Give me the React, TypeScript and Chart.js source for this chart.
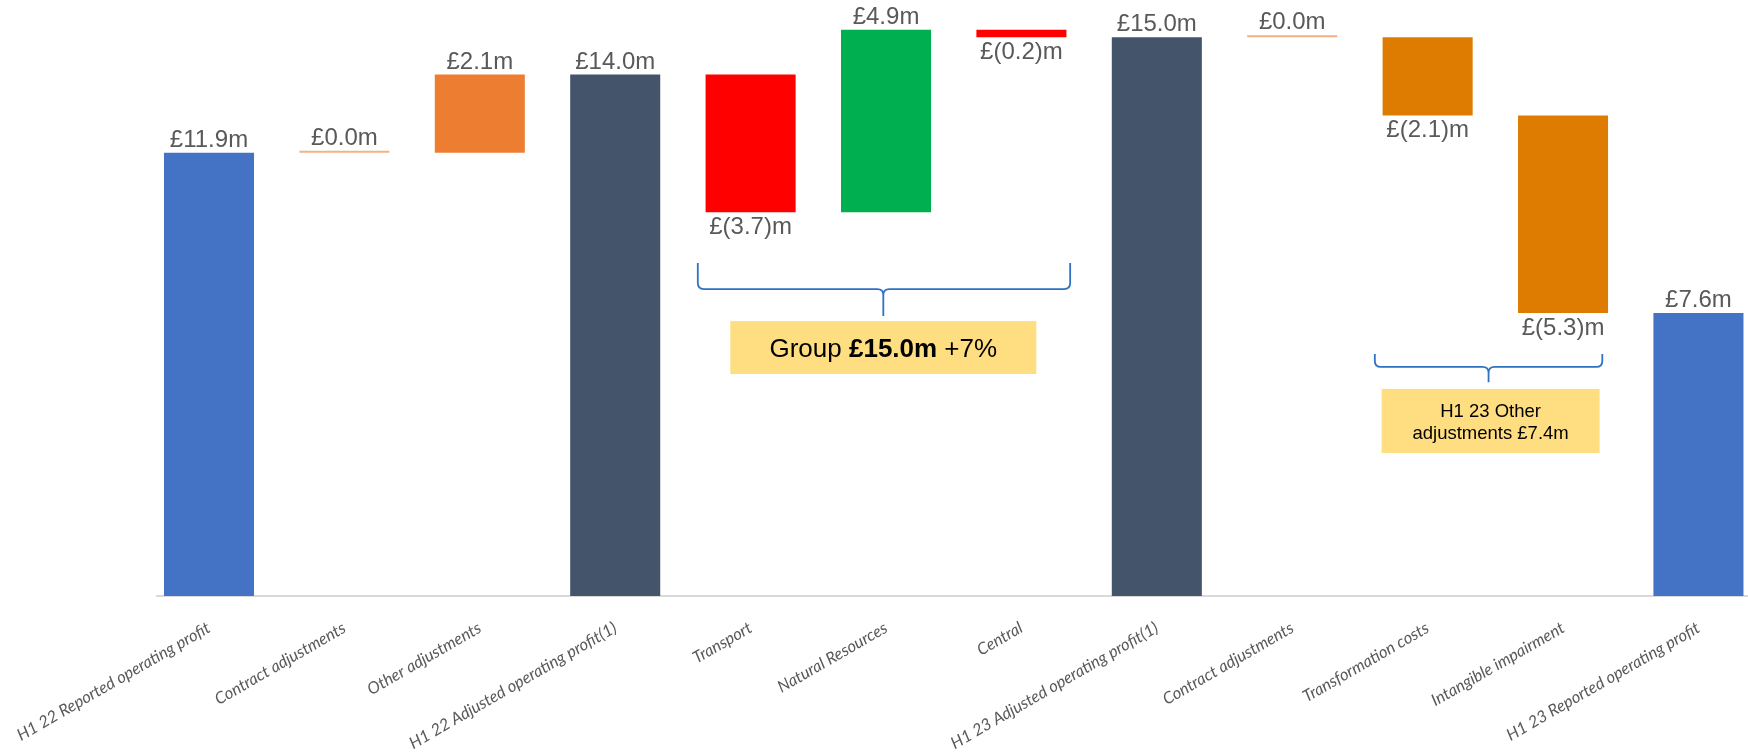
import React, { useEffect, useRef } from 'react';
import { Chart, registerables } from 'chart.js';

Chart.register(...registerables);

// ---- Data ----
const categories = [
  'H1 22 Reported operating profit',
  'Contract adjustments',
  'Other adjustments',
  'H1 22 Adjusted operating profit(1)',
  'Transport',
  'Natural Resources',
  'Central',
  'H1 23 Adjusted operating profit(1)',
  'Contract adjustments',
  'Transformation costs',
  'Intangible impairment',
  'H1 23 Reported operating profit',
];
const deltas = [11.9, 0.0, 2.1, 14.0, -3.7, 4.9, -0.2, 15.0, 0.0, -2.1, -5.3, 7.6];
const isTotal = [true, false, false, true, false, false, false, true, false, false, false, true];
const barColors = [
  '#4472c4', '#f4b183', '#ed7d31', '#44546a', '#ff0000', '#00b050',
  '#ff0000', '#44546a', '#f4b183', '#dd7c00', '#dd7c00', '#4472c4',
];

// annotation placements (in axis value units)
const groupBracket = { from: 3.61, to: 6.36, mid: 4.98, top: 8.94, bar: 8.24, tip: 7.52 };
const groupBox = { from: 3.85, to: 6.11, top: 7.38, bottom: 5.96 };
const groupText = ['Group ', '£15.0m', ' +7%'];
const otherBracket = { from: 8.61, to: 10.29, mid: 9.45, top: 6.5, bar: 6.15, tip: 5.74 };
const otherBox = { from: 8.66, to: 10.27, top: 5.56, bottom: 3.84 };
const otherText = ['H1 23 Other', 'adjustments £7.4m'];

const fmt = (v: number) => (v < 0 ? `£(${Math.abs(v).toFixed(1)})m` : `£${v.toFixed(1)}m`);

function buildRanges(): number[][] {
  let running = 0;
  return deltas.map((d, i) => {
    if (isTotal[i]) {
      running = d;
      return [0, d];
    }
    const lo = running;
    running = Math.round((running + d) * 10) / 10;
    return [lo, running];
  });
}

const valueLabelPlugin = {
  id: 'valueLabels',
  afterDatasetsDraw(chart: any) {
    const ctx = chart.ctx;
    const meta = chart.getDatasetMeta(0);
    ctx.save();
    ctx.font = '24px "Liberation Sans", Arial, sans-serif';
    ctx.fillStyle = '#595959';
    ctx.textAlign = 'center';
    ctx.textBaseline = 'alphabetic';
    meta.data.forEach((bar: any, i: number) => {
      const d = deltas[i];
      const top = Math.min(bar.y, bar.base);
      const bottom = Math.max(bar.y, bar.base);
      if (d < 0) {
        ctx.fillText(fmt(d), bar.x, bottom + 22);
      } else {
        ctx.fillText(fmt(d), bar.x, top - 6);
      }
    });
    ctx.restore();
  },
};

function drawBrace(ctx: any, xs: any, ys: any, b: any) {
  const l = xs.getPixelForValue(b.from);
  const r = xs.getPixelForValue(b.to);
  const m = xs.getPixelForValue(b.mid);
  const t = ys.getPixelForValue(b.top);
  const h = ys.getPixelForValue(b.bar);
  const tip = ys.getPixelForValue(b.tip);
  const rad = 6;
  ctx.save();
  ctx.strokeStyle = '#2f72c4';
  ctx.lineWidth = 1.8;
  ctx.beginPath();
  ctx.moveTo(l, t);
  ctx.lineTo(l, h - rad);
  ctx.quadraticCurveTo(l, h, l + rad, h);
  ctx.lineTo(m - rad, h);
  ctx.quadraticCurveTo(m, h, m, h + rad);
  ctx.lineTo(m, tip);
  ctx.moveTo(m, h + rad);
  ctx.quadraticCurveTo(m, h, m + rad, h);
  ctx.lineTo(r - rad, h);
  ctx.quadraticCurveTo(r, h, r, h - rad);
  ctx.lineTo(r, t);
  ctx.stroke();
  ctx.restore();
}

function drawBox(ctx: any, xs: any, ys: any, b: any) {
  const l = xs.getPixelForValue(b.from);
  const r = xs.getPixelForValue(b.to);
  const t = ys.getPixelForValue(b.top);
  const bt = ys.getPixelForValue(b.bottom);
  ctx.save();
  ctx.fillStyle = '#fede80';
  ctx.fillRect(l, t, r - l, bt - t);
  ctx.restore();
  return { l, r, t, bt, cx: (l + r) / 2, cy: (t + bt) / 2 };
}

const annotationPlugin = {
  id: 'annotations',
  afterDraw(chart: any) {
    const ctx = chart.ctx;
    const xs = chart.scales.x;
    const ys = chart.scales.y;
    drawBrace(ctx, xs, ys, groupBracket);
    drawBrace(ctx, xs, ys, otherBracket);

    // group box
    const g = drawBox(ctx, xs, ys, groupBox);
    ctx.save();
    ctx.fillStyle = '#000000';
    ctx.textBaseline = 'alphabetic';
    ctx.textAlign = 'left';
    const fonts = [
      '26px "Liberation Sans", Arial, sans-serif',
      'bold 26px "Liberation Sans", Arial, sans-serif',
      '26px "Liberation Sans", Arial, sans-serif',
    ];
    const widths = groupText.map((s, i) => {
      ctx.font = fonts[i];
      return ctx.measureText(s).width;
    });
    const total = widths.reduce((a, b) => a + b, 0);
    let x = g.cx - total / 2;
    const baseY = g.cy + 26 * 0.36;
    groupText.forEach((s, i) => {
      ctx.font = fonts[i];
      ctx.fillText(s, x, baseY);
      x += widths[i];
    });
    ctx.restore();

    // other box
    const o = drawBox(ctx, xs, ys, otherBox);
    ctx.save();
    ctx.fillStyle = '#000000';
    ctx.textAlign = 'center';
    ctx.textBaseline = 'alphabetic';
    ctx.font = '18.5px "Liberation Sans", Arial, sans-serif';
    const lh = 22;
    otherText.forEach((s, i) => {
      const y = o.cy + 18.5 * 0.36 - lh / 2 + i * lh;
      ctx.fillText(s, o.cx, y);
    });
    ctx.restore();
  },
};

export default function App() {
  const canvasRef = useRef<HTMLCanvasElement | null>(null);

  useEffect(() => {
    if (!canvasRef.current) return;
    const ranges = buildRanges();
    const chart = new Chart(canvasRef.current, {
      type: 'bar',
      data: {
        datasets: [
          {
            data: ranges.map((r, i) => ({ x: i, y: r })) as any,
            backgroundColor: barColors,
            borderWidth: 0,
            minBarLength: 2,
            categoryPercentage: 1,
            barPercentage: 0.665,
          },
        ],
      },
      options: {
        responsive: false,
        animation: false,
        devicePixelRatio: 1,
        layout: { padding: { left: 157, right: 0, top: 0, bottom: 0 } },
        plugins: {
          legend: { display: false },
          tooltip: { enabled: false },
        },
        scales: {
          x: {
            type: 'linear',
            offset: false,
            min: -0.384,
            max: 11.366,
            grid: { display: false, drawTicks: false, offset: false },
            border: { display: true, color: '#d9d9d9', width: 2 },
            afterBuildTicks: (scale: any) => {
              scale.ticks = categories.map((_, i) => ({ value: i }));
            },
            afterFit: (scale: any) => {
              scale.height = 158;
              scale.paddingLeft = 0;
              scale.paddingRight = 0;
            },
            ticks: {
              autoSkip: false,
              minRotation: 30,
              maxRotation: 30,
              padding: 22,
              color: '#595959',
              font: { family: 'Lato, "Open Sans", sans-serif', size: 16.5, style: 'italic' },
              callback: (v: any) => categories[Math.round(Number(v))] ?? '',
            },
          },
          y: {
            display: false,
            min: 0,
            max: 16,
          },
        },
      },
      plugins: [valueLabelPlugin, annotationPlugin],
    });
    return () => chart.destroy();
  }, []);

  return (
    <div style={{ position: 'absolute', left: 0, top: 0, width: 1748, height: 754, background: '#ffffff' }}>
      <canvas ref={canvasRef} width={1748} height={754} style={{ display: 'block' }} />
    </div>
  );
}
